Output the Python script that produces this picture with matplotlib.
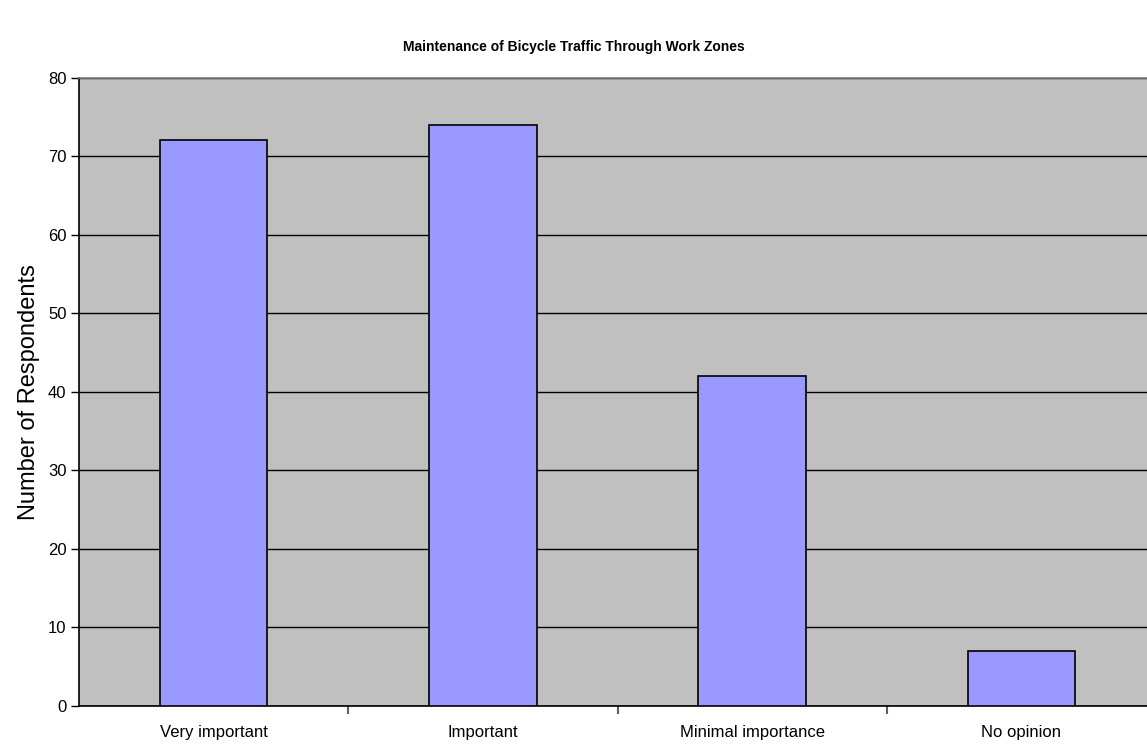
import matplotlib
matplotlib.use("Agg")
import matplotlib.pyplot as plt

categories = ["Very important", "Important", "Minimal importance", "No opinion"]
respondents = [72, 74, 42, 7]
y_ticks = [0, 10, 20, 30, 40, 50, 60, 70, 80]

plt.rcParams['font.family'] = ['Liberation Sans', 'DejaVu Sans']

fig = plt.figure(figsize=(11.47, 7.47), dpi=100)
ax = fig.add_axes([79 / 1147, 1 - 706 / 747, (1156 - 79) / 1147, (706 - 77.5) / 747])
ax.set_facecolor('#c0c0c0')

x = list(range(len(categories)))
ax.bar(x, respondents, width=0.4, color='#9999ff', edgecolor='black', linewidth=1.2, zorder=3)

ax.set_xlim(-0.5, len(categories) - 0.5)
ax.set_ylim(0, 80)
ax.set_yticks(y_ticks)
ax.yaxis.grid(True, color='black', linewidth=1)
ax.set_axisbelow(True)

ax.set_xticks(x)
ax.set_xticklabels(categories, fontsize=12)
ax.tick_params(axis='x', length=0, pad=14)
ax.set_xticks([i + 0.5 for i in x[:-1]], minor=True)
ax.tick_params(axis='x', which='minor', length=6, color='#606060', width=1.5)
ax.tick_params(axis='y', labelsize=12, length=6, width=1, pad=3)

for side in ['left', 'bottom']:
    ax.spines[side].set_color('black')
    ax.spines[side].set_linewidth(1.2)
ax.spines['top'].set_color('#808080')
ax.spines['top'].set_linewidth(1.2)
ax.spines['right'].set_visible(False)

ax.set_ylabel("Number of Respondents", fontsize=17, labelpad=6)
fig.text(0.5, 1 - 47 / 747, "Maintenance of Bicycle Traffic Through Work Zones",
         ha='center', va='center', fontsize=10, fontweight='bold')

fig.savefig("out.png", dpi=100)
